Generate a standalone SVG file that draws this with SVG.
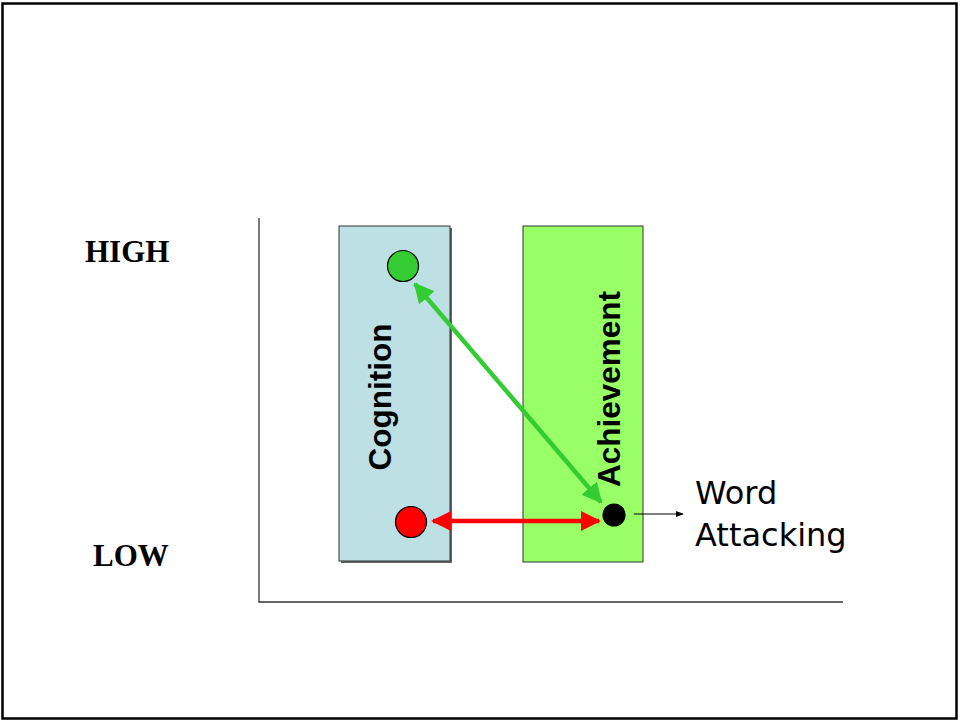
<svg xmlns="http://www.w3.org/2000/svg" width="960" height="721" viewBox="0 0 960 721">
  <style>
    .level { font-family: "Liberation Serif", serif; font-weight: bold; font-size: 31px; fill: #000; }
    .bar-label { font-family: "Liberation Sans", Arial, sans-serif; font-weight: bold; font-size: 31.5px; fill: #000; }
    .note { font-family: "DejaVu Sans", sans-serif; font-size: 32px; fill: #000; }
    .axis { stroke: #333; stroke-width: 1.3; fill: none; }
    .bar { stroke: #333; stroke-width: 1; }
    .dot { stroke: #000; stroke-width: 1.2; }
  </style>
  <defs>
    <marker id="headGreen" viewBox="0 0 10 10" refX="9" refY="5" markerWidth="4.5" markerHeight="4.5" orient="auto-start-reverse" markerUnits="strokeWidth">
      <path d="M0,0 L10,5 L0,10 z" fill="#33CC33"/>
    </marker>
    <marker id="headRed" viewBox="0 0 10 10" refX="9" refY="5" markerWidth="4.5" markerHeight="4.5" orient="auto-start-reverse" markerUnits="strokeWidth">
      <path d="M0,0 L10,5 L0,10 z" fill="#FF0000"/>
    </marker>
    <marker id="headBlack" viewBox="0 0 10 10" refX="9" refY="5" markerWidth="8" markerHeight="8" orient="auto" markerUnits="userSpaceOnUse">
      <path d="M0,1 L10,5 L0,9 z" fill="#000"/>
    </marker>
  </defs>

  <rect x="0" y="0" width="960" height="721" fill="#fff"/>
  <!-- page frame -->
  <rect x="2.5" y="3.5" width="954" height="715" fill="none" stroke="#000" stroke-width="2.5"/>

  <!-- axes -->
  <path class="axis" d="M259,218 V602 H843"/>

  <text class="level" x="85" y="262">HIGH</text>
  <text class="level" x="93" y="566">LOW</text>

  <!-- Cognition column -->
  <g id="cognition">
    <rect x="341" y="228" width="111" height="335" fill="#666"/>
    <rect class="bar" x="339" y="226" width="111" height="335" fill="#BCE0E4"/>
    <text class="bar-label" transform="translate(391,397) rotate(-90)" text-anchor="middle">Cognition</text>
  </g>

  <!-- Achievement column -->
  <g id="achievement">
    <rect class="bar" x="523" y="226" width="120" height="336" fill="#99FF66"/>
    <text class="bar-label" transform="translate(620,389) rotate(-90)" text-anchor="middle">Achievement</text>
  </g>

  <g id="cognition-high">
    <circle class="dot" cx="403" cy="266" r="15.5" fill="#33CC33"/>
  </g>
  <g id="cognition-low">
    <circle class="dot" cx="411" cy="522" r="15.5" fill="#FF0000"/>
  </g>
  <g id="achievement-low">
    <circle class="dot" cx="614" cy="515" r="11" fill="#000"/>
  </g>

  <g id="connectors">
    <line x1="415" y1="284" x2="601" y2="502" stroke="#33CC33" stroke-width="4.5" marker-start="url(#headGreen)" marker-end="url(#headGreen)"/>
    <line x1="433" y1="521" x2="599" y2="521" stroke="#FF0000" stroke-width="4.5" marker-start="url(#headRed)" marker-end="url(#headRed)"/>
    <line x1="634" y1="514" x2="683" y2="514" stroke="#000" stroke-width="1" marker-end="url(#headBlack)"/>
  </g>

  <g id="word-attacking">
    <text class="note" x="695" y="504">Word</text>
    <text class="note" x="695" y="546">Attacking</text>
  </g>
</svg>
